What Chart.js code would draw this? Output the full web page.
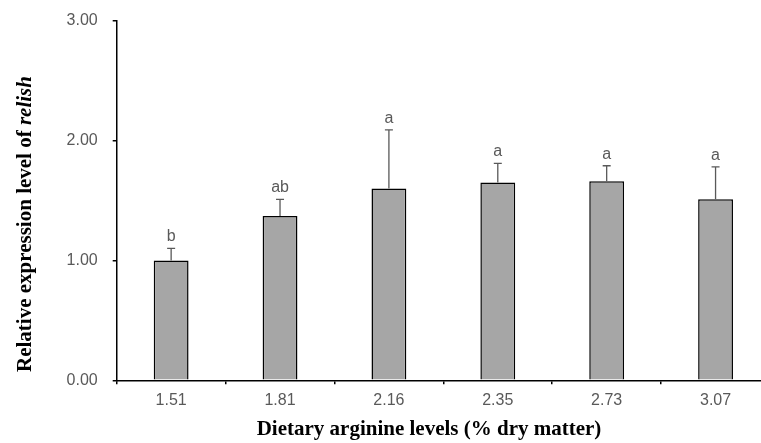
<!DOCTYPE html>
<html>
<head>
<meta charset="utf-8">
<script src="https://cdn.jsdelivr.net/npm/chart.js@4"></script>
<style>
  html, body { margin: 0; padding: 0; background: #fff; overflow: hidden; }
  #wrap { width: 780px; height: 443px; position: relative; }
</style>
</head>
<body>
<div id="wrap"><canvas id="mychart"></canvas></div>
<script>
const levels = ['1.51', '1.81', '2.16', '2.35', '2.73', '3.07'];
const means = [1.00, 1.37, 1.60, 1.65, 1.66, 1.51];
const errors = [0.10, 0.14, 0.49, 0.16, 0.13, 0.27];
const letters = ['b', 'ab', 'a', 'a', 'a', 'a'];
const yTicks = [0, 1, 2, 3];

const grey = '#595959';
const serif = '"Liberation Serif", "Times New Roman", serif';

const extras = {
  id: 'extras',
  afterDatasetsDraw(chart) {
    const ctx = chart.ctx;
    const y = chart.scales.y;
    const meta = chart.getDatasetMeta(0);
    ctx.save();
    meta.data.forEach((bar, i) => {
      const top = y.getPixelForValue(means[i] + errors[i]);
      ctx.strokeStyle = grey;
      ctx.lineWidth = 1.3;
      ctx.beginPath();
      ctx.moveTo(bar.x, bar.y);
      ctx.lineTo(bar.x, top);
      ctx.moveTo(bar.x - 4, top);
      ctx.lineTo(bar.x + 4, top);
      ctx.stroke();
      ctx.fillStyle = grey;
      ctx.font = '16px "Liberation Sans", Arial, sans-serif';
      ctx.textAlign = 'center';
      ctx.textBaseline = 'alphabetic';
      ctx.fillText(letters[i], bar.x, top - 7);
    });
    ctx.restore();
  },
  afterDraw(chart) {
    const ctx = chart.ctx;
    ctx.save();
    ctx.fillStyle = '#000';
    ctx.textBaseline = 'middle';
    // x title
    ctx.font = 'bold 21px ' + serif;
    ctx.textAlign = 'center';
    ctx.fillText('Dietary arginine levels (% dry matter)', 429, 430);
    // y title with italic gene name
    const a = 'Relative expression level of ';
    const b = 'relish';
    ctx.translate(26, 224);
    ctx.rotate(-Math.PI / 2);
    ctx.font = 'bold 21px ' + serif;
    const wa = ctx.measureText(a).width;
    ctx.font = 'italic bold 21px ' + serif;
    const wb = ctx.measureText(b).width;
    const start = -(wa + wb) / 2;
    ctx.textAlign = 'left';
    ctx.font = 'bold 21px ' + serif;
    ctx.fillText(a, start, 0);
    ctx.font = 'italic bold 21px ' + serif;
    ctx.fillText(b, start + wa, 0);
    ctx.restore();
  }
};

new Chart(document.getElementById('mychart'), {
  type: 'bar',
  data: {
    labels: levels,
    datasets: [{
      data: means,
      backgroundColor: '#a6a6a6',
      borderColor: '#000',
      borderWidth: 1.5,
      categoryPercentage: 1,
      barPercentage: 0.32
    }]
  },
  options: {
    responsive: true,
    maintainAspectRatio: false,
    animation: false,
    layout: { padding: { left: 0, top: 20.7, right: 10, bottom: 0 } },
    plugins: {
      legend: { display: false },
      tooltip: { enabled: false }
    },
    scales: {
      x: {
        grid: { offset: true, drawOnChartArea: false, tickLength: 4, color: '#000', lineWidth: 1.5 },
        border: { color: '#000', width: 1.5 },
        ticks: { color: grey, font: { family: '"Liberation Sans", Arial, sans-serif', size: 16 }, padding: 7 },
        afterFit(scale) { scale.height = 443 - 380.3; }
      },
      y: {
        min: 0,
        max: 3,
        afterBuildTicks(scale) { scale.ticks = yTicks.map(v => ({ value: v })); },
        grid: { drawOnChartArea: false, tickLength: 4, color: '#000', lineWidth: 1.5 },
        border: { color: '#000', width: 1.5 },
        ticks: {
          color: grey,
          font: { family: '"Liberation Sans", Arial, sans-serif', size: 16 },
          padding: 15,
          callback: v => v.toFixed(2)
        },
        afterFit(scale) {
          scale.width = 116.7;
          scale.paddingTop = 0;
          scale.paddingBottom = 0;
        }
      }
    }
  },
  plugins: [extras]
});
</script>
</body>
</html>
